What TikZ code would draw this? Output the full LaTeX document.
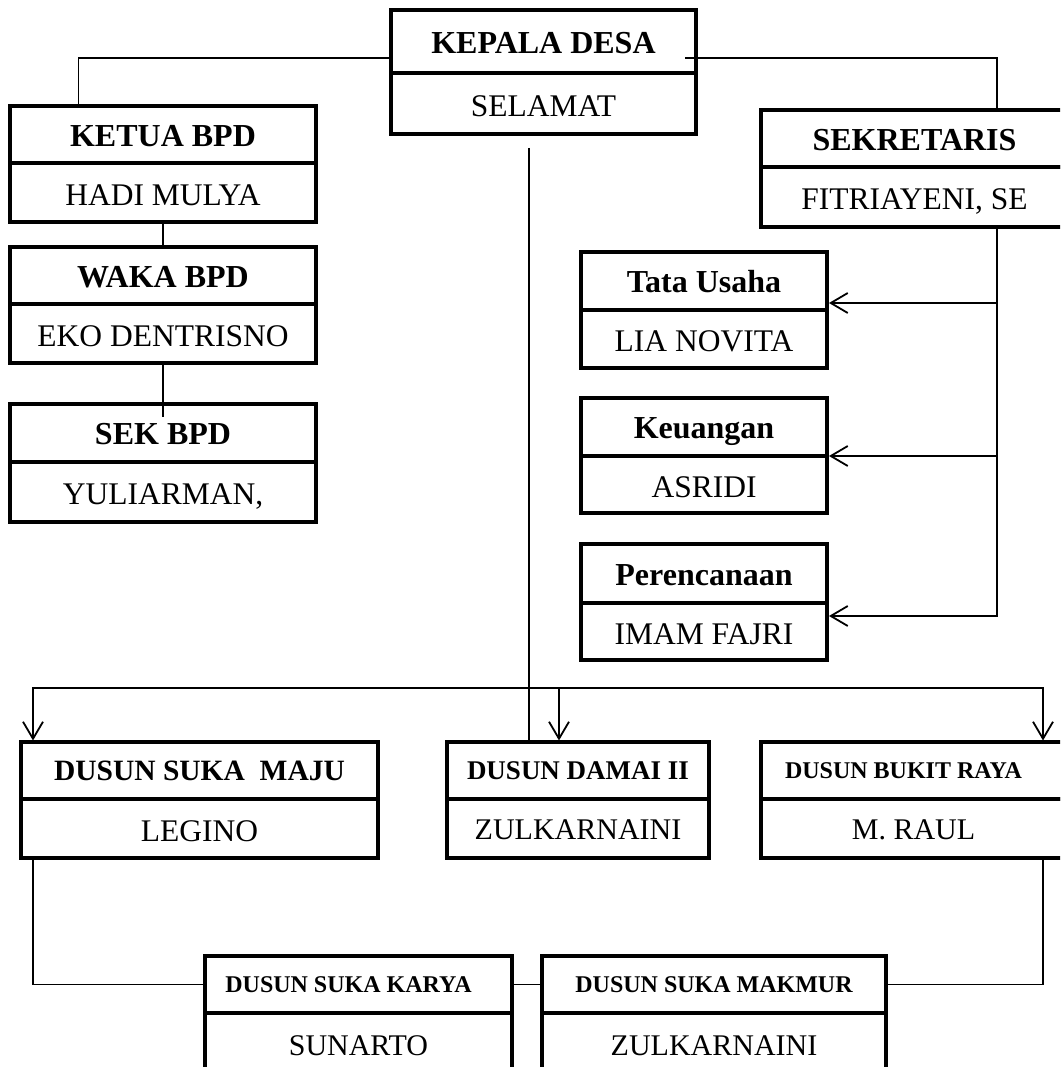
\documentclass[tikz,border=0pt]{standalone}
\usepackage{fontspec}
\setmainfont{Liberation Serif}
\usetikzlibrary{arrows.meta,calc}
\newcommand{\fsz}[1]{\fontsize{#1}{#1}\selectfont}
% caps-centred text (height of X, no depth), nudged slightly downward
\newcommand{\Tb}[1]{{\fsz{32}\bfseries\raisebox{3pt}{\vphantom{X}}\smash{#1}}}
\newcommand{\Nb}[1]{{\fsz{31.5}\raisebox{5pt}{\vphantom{X}}\smash{#1}}}
\newcommand{\Tm}[1]{{\fsz{29.5}\bfseries\vphantom{X}\smash{#1}}}
\newcommand{\Tmm}[1]{{\fsz{27}\bfseries\vphantom{X}\smash{#1}}}
\newcommand{\Ts}[1]{{\fsz{24}\bfseries\vphantom{X}\smash{#1}}}
\newcommand{\Nm}[1]{{\fsz{30}\raisebox{3pt}{\vphantom{X}}\smash{#1}}}
\tikzset{
  cell/.style={draw, line width=3.2pt, inner sep=0pt, outer sep=0pt, anchor=north west, align=center},
  conn/.style={line width=1.8pt},
  arr/.style={conn, -{Straight Barb[length=17pt,width=20pt]}}
}
\newcommand{\orgbox}[8]{%
  \node[cell, minimum width={(#6-#2)*1pt}, minimum height={(#4-#3)*1pt}] (#1-t) at (#2,#3) {#7};
  \node[cell, minimum width={(#6-#2)*1pt}, minimum height={(#5-#4)*1pt}] (#1-n) at (#2,#4) {#8};
}
\begin{document}
\begin{tikzpicture}[x=1pt,y=-1pt]
\useasboundingbox (0,0) rectangle (1060,1067);
\clip (0,0) rectangle (1060,1067);
\fill[white] (0,0) rectangle (1060,1067);

\orgbox{kd}{391}{10}{73}{134}{696}{\Tb{KEPALA DESA}}{\Nb{SELAMAT}}
\orgbox{ket}{10}{106}{163}{222}{316}{\Tb{KETUA BPD}}{\Nb{HADI MULYA}}
\orgbox{waka}{10}{247}{304}{363}{316}{\Tb{WAKA BPD}}{\Nb{EKO DENTRISNO}}
\orgbox{sek}{10}{404}{462}{522}{316}{\Tb{SEK BPD}}{\Nb{YULIARMAN,}}
\orgbox{sekr}{761}{110}{167}{227}{1068}{\Tb{SEKRETARIS}}{\Nb{FITRIAYENI, SE}}
\orgbox{tu}{581}{252}{310}{368}{827}{\Tb{Tata Usaha}}{\Nb{LIA NOVITA}}
\orgbox{ku}{581}{398}{456}{513}{827}{\Tb{Keuangan}}{\Nb{ASRIDI}}
\orgbox{pr}{581}{544}{603}{660}{827}{\Tb{Perencanaan}}{\Nb{IMAM FAJRI}}
\orgbox{sm}{21}{742}{799}{858}{378}{\Tm{DUSUN SUKA\ \ MAJU}}{\Nb{LEGINO}}
\orgbox{dm}{447}{742}{799}{858}{709}{\Tmm{DUSUN DAMAI II}}{\Nm{ZULKARNAINI}}
\orgbox{br}{761}{742}{799}{858}{1066}{\hspace*{-20pt}\Ts{DUSUN BUKIT RAYA}}{\Nm{M. RAUL}}
\orgbox{sk}{205}{956}{1013}{1075}{512}{\hspace*{-20pt}\Ts{DUSUN SUKA KARYA}}{\Nm{SUNARTO}}
\orgbox{mk}{542}{956}{1013}{1075}{886}{\Ts{DUSUN SUKA MAKMUR}}{\Nm{ZULKARNAINI}}

% top connectors
\draw[conn] ([yshift=-16.5pt]kd-t.west) -| ([xshift=68.5pt]ket-t.north west);
\draw[conn] ([xshift=-11pt,yshift=-16.5pt]kd-t.east) -| ([xshift=236pt]sekr-t.north west);
\draw[conn] (ket-n.south) -- (waka-t.north);
\draw[conn] (waka-n.south) -- ([yshift=-13pt]sek-t.north);

% sekretaris branch
\coordinate (sv) at ([xshift=236pt]sekr-n.south west);
\coordinate (tuA) at ([xshift=2pt,yshift=-22pt]tu-t.east);
\coordinate (kuA) at ([xshift=2pt]ku-t.south east);
\coordinate (prA) at ([xshift=2pt,yshift=-13pt]pr-n.north east);
\draw[arr] (sv) |- (prA);
\draw[arr] (sv |- tuA) -- (tuA);
\draw[arr] (sv |- kuA) -- (kuA);

% kepala desa down to dusun
\coordinate (kv) at ([xshift=-14.5pt,yshift=-14pt]kd-n.south);
\draw[conn] (kv) -- (kv |- dm-t.north);
\path (kv |- dm-t.north) ++(0,-54) coordinate (bus);
\coordinate (smA) at ([xshift=12pt,yshift=1.5pt]sm-t.north west);
\coordinate (dmA) at ([xshift=112pt,yshift=1.5pt]dm-t.north west);
\coordinate (brA) at ([xshift=282pt,yshift=1.5pt]br-t.north west);
\draw[arr] (bus) -| (smA);
\draw[arr] (bus) -| (brA);
\draw[arr] (dmA |- bus) -- (dmA);

% bottom connectors
\draw[conn] ([xshift=12pt]sm-n.south west) |- (sk-t.west);
\draw[conn] (sk-t.east) -- (mk-t.west);
\draw[conn] (mk-t.east) -| ([xshift=282pt]br-n.south west);
\end{tikzpicture}
\end{document}
